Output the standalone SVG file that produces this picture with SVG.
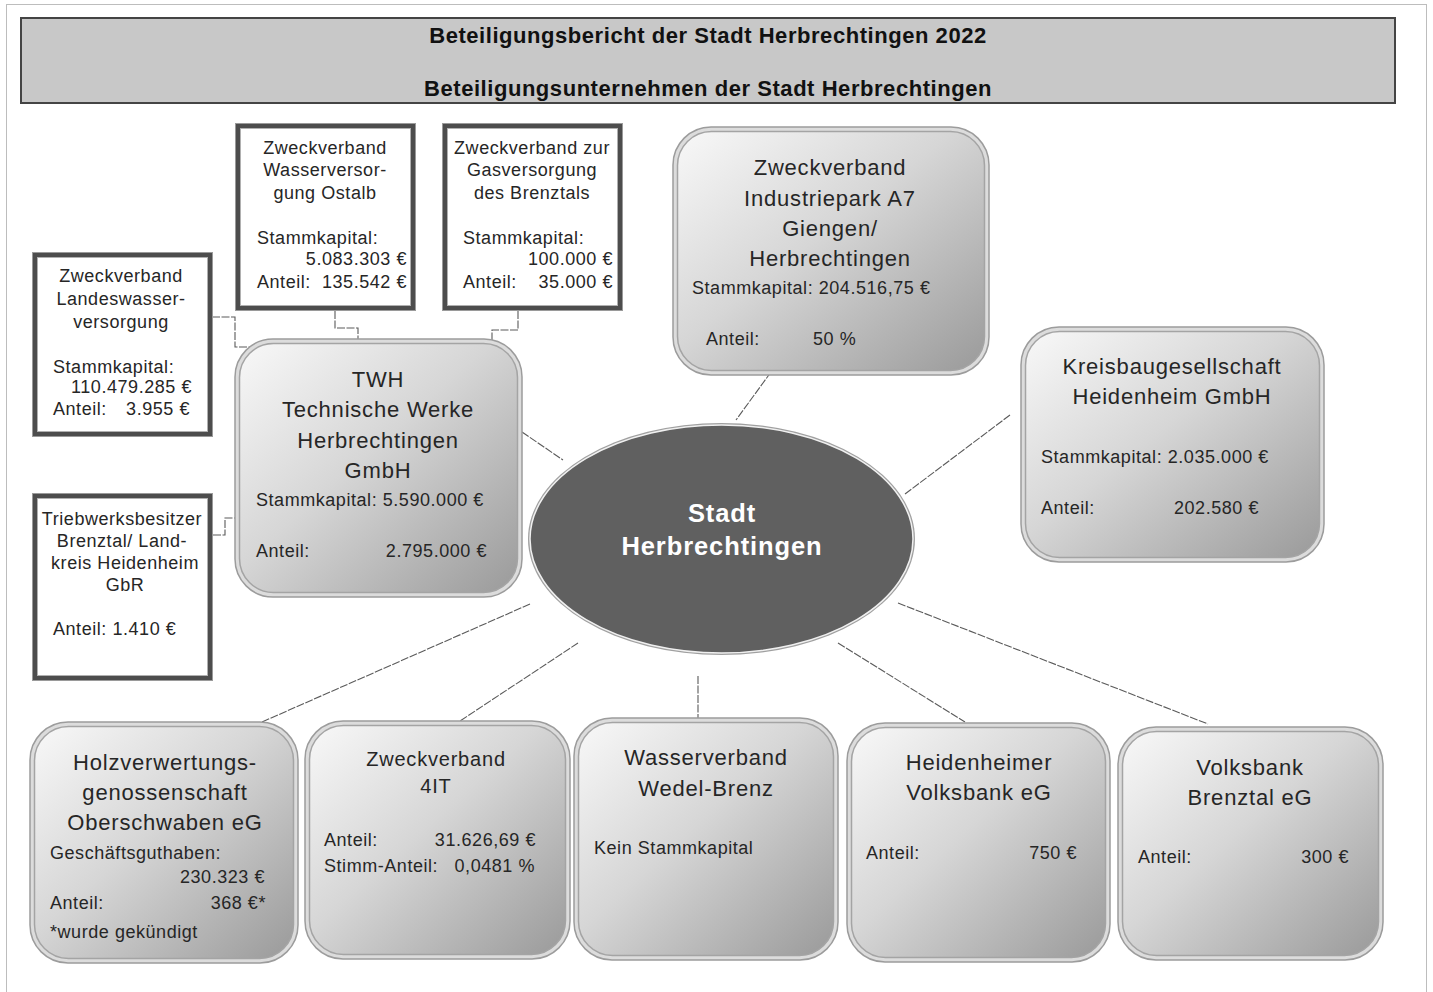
<svg xmlns="http://www.w3.org/2000/svg" width="1433" height="992" viewBox="0 0 1433 992">
<defs>
<linearGradient id="g" x1="0" y1="0" x2="1" y2="1">
<stop offset="0" stop-color="#f8f8f8"/>
<stop offset="0.45" stop-color="#d6d6d6"/>
<stop offset="1" stop-color="#9a9a9a"/>
</linearGradient>
</defs>
<style>
text{font-family:"Liberation Sans",Arial,sans-serif;fill:#262626}
.t{font-size:18px;letter-spacing:0.55px}
.h{font-size:22px;letter-spacing:0.8px}
.m{text-anchor:middle}
.e{text-anchor:end}
.sq1{fill:none;stroke:#9a9a9a;stroke-width:1}
.sq2{fill:none;stroke:#4d4d4d;stroke-width:4}
.sq3{fill:#fff;stroke:#b0b0b0;stroke-width:1}
.r1{fill:#dcdcdc;stroke:#9c9c9c;stroke-width:1.5}
.r2{fill:url(#g);stroke:#a4a4a4;stroke-width:1.5}
.c{fill:none;stroke:#5a5a5a;stroke-width:1.1;stroke-dasharray:8 1.5}
.ti{font-size:22px;font-weight:bold;letter-spacing:0.55px}
.st{font-size:25.5px;font-weight:bold;letter-spacing:0.9px}
</style>
<rect width="1433" height="992" fill="#fff"/>
<rect x="6.5" y="4.5" width="1420" height="995" fill="none" stroke="#bdbdbd" stroke-width="1"/>

<g id="title">
<rect x="21" y="18" width="1374" height="85" fill="#c8c8c8" stroke="#444" stroke-width="2"/>
<text x="708" y="43" class="m ti" style="fill:#111">Beteiligungsbericht der Stadt Herbrechtingen 2022</text>
<text x="708" y="96" class="m ti" style="fill:#111">Beteiligungsunternehmen der Stadt Herbrechtingen</text>
</g>

<g id="connectors">
<path class="c" d="M212 317H235V347H256"/>
<path class="c" d="M335 311V328H358V340"/>
<path class="c" d="M518 311V330H492V342"/>
<path class="c" d="M213 535H225V518H238"/>
<path class="c" d="M522 432L563 460"/>
<path class="c" d="M771 372L736 420"/>
<path class="c" d="M1010 415L905 494"/>
<path class="c" d="M530 604L262 722"/>
<path class="c" d="M578 643L457 723"/>
<path class="c" d="M698 676V718"/>
<path class="c" d="M838 643L965 722"/>
<path class="c" d="M898 603L1208 724"/>
</g>

<g id="landeswasser">
<rect class="sq1" x="32.5" y="252.5" width="180" height="184"/>
<rect class="sq2" x="35" y="255" width="175" height="179"/>
<rect class="sq3" x="37.5" y="257.5" width="170" height="174"/>
<text class="t m" x="121" y="282">Zweckverband</text>
<text class="t m" x="121" y="305">Landeswasser-</text>
<text class="t m" x="121" y="328">versorgung</text>
<text class="t" x="53" y="373">Stammkapital:</text>
<text class="t e" x="192" y="393">110.479.285 €</text>
<text class="t" x="53" y="415">Anteil:</text>
<text class="t e" x="190" y="415">3.955 €</text>
</g>

<g id="ostalb">
<rect class="sq1" x="235.5" y="123.5" width="180" height="187"/>
<rect class="sq2" x="238" y="126" width="175" height="182"/>
<rect class="sq3" x="240.5" y="128.5" width="170" height="177"/>
<text class="t m" x="325" y="154">Zweckverband</text>
<text class="t m" x="325" y="176">Wasserversor-</text>
<text class="t m" x="325" y="199">gung Ostalb</text>
<text class="t" x="257" y="244">Stammkapital:</text>
<text class="t e" x="407" y="265">5.083.303 €</text>
<text class="t" x="257" y="288">Anteil:</text>
<text class="t e" x="407" y="288">135.542 €</text>
</g>

<g id="gas">
<rect class="sq1" x="442.5" y="123.5" width="180" height="187"/>
<rect class="sq2" x="445" y="126" width="175" height="182"/>
<rect class="sq3" x="447.5" y="128.5" width="170" height="177"/>
<text class="t m" x="532" y="154">Zweckverband zur</text>
<text class="t m" x="532" y="176">Gasversorgung</text>
<text class="t m" x="532" y="199">des Brenztals</text>
<text class="t" x="463" y="244">Stammkapital:</text>
<text class="t e" x="613" y="265">100.000 €</text>
<text class="t" x="463" y="288">Anteil:</text>
<text class="t e" x="613" y="288">35.000 €</text>
</g>

<g id="triebwerk">
<rect class="sq1" x="32.5" y="493.5" width="180" height="187"/>
<rect class="sq2" x="35" y="496" width="175" height="182"/>
<rect class="sq3" x="37.5" y="498.5" width="170" height="177"/>
<text class="t m" x="122" y="525">Triebwerksbesitzer</text>
<text class="t m" x="122" y="547">Brenztal/ Land-</text>
<text class="t m" x="125" y="569">kreis Heidenheim</text>
<text class="t m" x="125" y="591">GbR</text>
<text class="t" x="53" y="635">Anteil: 1.410 €</text>
</g>

<g id="twh">
<rect class="r1" x="235" y="339" width="287" height="258" rx="38"/>
<rect class="r2" x="239.5" y="343.5" width="278" height="249" rx="34"/>
<text class="h m" x="378" y="387">TWH</text>
<text class="h m" x="378" y="417">Technische Werke</text>
<text class="h m" x="378" y="448">Herbrechtingen</text>
<text class="h m" x="378" y="478">GmbH</text>
<text class="t" x="256" y="506">Stammkapital: 5.590.000 €</text>
<text class="t" x="256" y="557">Anteil:</text>
<text class="t e" x="487" y="557">2.795.000 €</text>
</g>

<g id="industriepark">
<rect class="r1" x="673" y="127" width="316" height="248" rx="38"/>
<rect class="r2" x="677.5" y="131.5" width="307" height="239" rx="34"/>
<text class="h m" x="830" y="175">Zweckverband</text>
<text class="h m" x="830" y="206">Industriepark A7</text>
<text class="h m" x="830" y="236">Giengen/</text>
<text class="h m" x="830" y="266">Herbrechtingen</text>
<text class="t" x="692" y="294">Stammkapital: 204.516,75 €</text>
<text class="t" x="706" y="345">Anteil:</text>
<text class="t" x="813" y="345">50 %</text>
</g>

<g id="kreisbau">
<rect class="r1" x="1021" y="327" width="303" height="235" rx="38"/>
<rect class="r2" x="1025.5" y="331.5" width="294" height="226" rx="34"/>
<text class="h m" x="1172" y="374">Kreisbaugesellschaft</text>
<text class="h m" x="1172" y="404">Heidenheim GmbH</text>
<text class="t" x="1041" y="463">Stammkapital: 2.035.000 €</text>
<text class="t" x="1041" y="514">Anteil:</text>
<text class="t e" x="1259" y="514">202.580 €</text>
</g>

<g id="stadt">
<ellipse cx="721.5" cy="539" rx="193.5" ry="116" fill="#a0a0a0"/>
<ellipse cx="721.5" cy="539" rx="191.5" ry="114" fill="#606060" stroke="#f0f0f0" stroke-width="1.5"/>
<text x="722" y="522" class="m st" style="fill:#fff">Stadt</text>
<text x="722" y="555" class="m st" style="fill:#fff">Herbrechtingen</text>
</g>

<g id="holz">
<rect class="r1" x="30" y="722" width="268" height="241" rx="38"/>
<rect class="r2" x="34.5" y="726.5" width="259" height="232" rx="34"/>
<text class="h m" x="165" y="770">Holzverwertungs-</text>
<text class="h m" x="165" y="800">genossenschaft</text>
<text class="h m" x="165" y="830">Oberschwaben eG</text>
<text class="t" x="50" y="859">Geschäftsguthaben:</text>
<text class="t e" x="265" y="883">230.323 €</text>
<text class="t" x="50" y="909">Anteil:</text>
<text class="t e" x="266" y="909">368 €*</text>
<text class="t" x="50" y="938">*wurde gekündigt</text>
</g>

<g id="it4">
<rect class="r1" x="305" y="721" width="265" height="238" rx="38"/>
<rect class="r2" x="309.5" y="725.5" width="256" height="229" rx="34"/>
<text class="m" x="436" y="766" style="font-size:20px;letter-spacing:0.8px">Zweckverband</text>
<text class="m" x="436" y="793" style="font-size:20px;letter-spacing:0.8px">4IT</text>
<text class="t" x="324" y="846">Anteil:</text>
<text class="t e" x="536" y="846">31.626,69 €</text>
<text class="t" x="324" y="872">Stimm-Anteil:</text>
<text class="t e" x="535" y="872">0,0481 %</text>
</g>

<g id="wasserverband">
<rect class="r1" x="574" y="718" width="264" height="242" rx="38"/>
<rect class="r2" x="578.5" y="722.5" width="255" height="233" rx="34"/>
<text class="h m" x="706" y="765">Wasserverband</text>
<text class="h m" x="706" y="796">Wedel-Brenz</text>
<text class="t" x="594" y="854">Kein Stammkapital</text>
</g>

<g id="heidenheimer">
<rect class="r1" x="847" y="723" width="263" height="239" rx="38"/>
<rect class="r2" x="851.5" y="727.5" width="254" height="230" rx="34"/>
<text class="h m" x="979" y="770">Heidenheimer</text>
<text class="h m" x="979" y="800">Volksbank eG</text>
<text class="t" x="866" y="859">Anteil:</text>
<text class="t e" x="1077" y="859">750 €</text>
</g>

<g id="volksbank">
<rect class="r1" x="1118" y="727" width="265" height="233" rx="38"/>
<rect class="r2" x="1122.5" y="731.5" width="256" height="224" rx="34"/>
<text class="h m" x="1250" y="775">Volksbank</text>
<text class="h m" x="1250" y="805">Brenztal eG</text>
<text class="t" x="1138" y="863">Anteil:</text>
<text class="t e" x="1349" y="863">300 €</text>
</g>
</svg>
